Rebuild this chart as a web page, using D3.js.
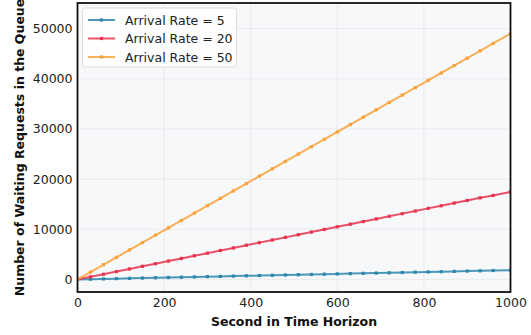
<!DOCTYPE html>
<html><head><meta charset="utf-8">
<script src="https://cdn.jsdelivr.net/npm/d3@7"></script>
<style>body{margin:0;background:#fff;} svg{display:block;font-family:"DejaVu Sans",sans-serif;}</style>
</head><body>
<svg id="c" width="531" height="335"></svg>
<script>
const times = [0,30,60,90,120,150,180,210,240,270,300,330,360,390,420,450,480,510,540,570,600,630,660,690,720,750,780,810,840,870,900,930,960,1000];
const rate5 = [0,55,110,165,220,280,335,390,445,500,555,610,665,720,775,835,890,945,1000,1055,1110,1165,1220,1275,1330,1390,1445,1500,1555,1610,1665,1720,1780,1850];
const rate20 = [0,520,1040,1570,2090,2620,3140,3670,4190,4720,5240,5770,6290,6820,7340,7870,8390,8920,9440,9970,10490,11020,11540,12070,12590,13120,13640,14170,14690,15220,15740,16270,16750,17450];
const rate50 = [0,1470,2940,4410,5880,7350,8820,10290,11760,13230,14700,16170,17640,19110,20580,22050,23520,24990,26460,27930,29400,30870,32340,33810,35280,36750,38220,39690,41160,42630,44100,45570,47040,49000];
const seriesNames = ["Arrival Rate = 5","Arrival Rate = 20","Arrival Rate = 50"];
const seriesColors = ["#2E86AB","#E8334F","#F9A23A"];
const xTicks = [0,200,400,600,800,1000];
const yTicks = [0,10000,20000,30000,40000,50000];

const svg = d3.select("#c");
const L=77.5, R=510.5, T=3, B=292;
const x = d3.scaleLinear().domain([0,1000]).range([L,R]);
const y = d3.scaleLinear().domain([-2500,55100]).range([B,T]);

svg.append("rect").attr("x",L).attr("y",T).attr("width",R-L).attr("height",B-T).attr("fill","#f7f8fa");

// grid
svg.append("g").selectAll("line").data(xTicks).join("line")
  .attr("x1",d=>x(d)).attr("x2",d=>x(d)).attr("y1",T).attr("y2",B)
  .attr("stroke","#e6e7ea").attr("stroke-width",0.8);
svg.append("g").selectAll("line").data(yTicks).join("line")
  .attr("y1",d=>y(d)).attr("y2",d=>y(d)).attr("x1",L).attr("x2",R)
  .attr("stroke","#e6e7ea").attr("stroke-width",0.8);

const series = [rate5, rate20, rate50];
const clip = svg.append("clipPath").attr("id","cp").append("rect").attr("x",L).attr("y",T).attr("width",R-L).attr("height",B-T);
const plot = svg.append("g").attr("clip-path","url(#cp)");
const line = d3.line().x((d,i)=>x(times[i])).y(d=>y(d));
series.forEach((s,k)=>{
  plot.append("path").datum(s).attr("d",line).attr("fill","none")
    .attr("stroke",seriesColors[k]).attr("stroke-width",2).attr("stroke-opacity",0.85);
  plot.append("g").selectAll("rect").data(s).join("rect")
    .attr("x",(d,i)=>x(times[i])-1.6).attr("y",d=>y(d)-1.6).attr("width",3.2).attr("height",3.2)
    .attr("fill",seriesColors[k]);
});

// frame
svg.append("rect").attr("x",L).attr("y",T).attr("width",R-L).attr("height",B-T)
  .attr("fill","none").attr("stroke","#111").attr("stroke-width",1.8);

// axes
const xAxis = d3.axisBottom(x).tickValues(xTicks).tickSize(0).tickPadding(6).tickFormat(d3.format("d"));
const gx = svg.append("g").attr("transform",`translate(0,${B})`).call(xAxis);
gx.select(".domain").remove();
gx.selectAll("text").attr("font-size","12.5px").attr("fill","#222").attr("font-family","DejaVu Sans");
const yAxis = d3.axisLeft(y).tickValues(yTicks).tickSize(0).tickPadding(5).tickFormat(d3.format("d"));
const gy = svg.append("g").attr("transform",`translate(${L},0)`).call(yAxis);
gy.select(".domain").remove();
gy.selectAll("text").attr("font-size","12.5px").attr("fill","#222").attr("font-family","DejaVu Sans");

svg.append("text").attr("x",(L+R)/2).attr("y",326).attr("text-anchor","middle")
  .attr("font-weight","bold").attr("font-size","12.5px").attr("fill","#111").text("Second in Time Horizon");
svg.append("text").attr("transform",`translate(24,${(T+B)/2}) rotate(-90)`).attr("text-anchor","middle")
  .attr("font-weight","bold").attr("font-size","12.5px").attr("fill","#111").text("Number of Waiting Requests in the Queue");

// legend
const lg = svg.append("g");
lg.append("rect").attr("x",82.5).attr("y",8).attr("width",154).attr("height",59).attr("rx",2.5)
  .attr("fill","#fff").attr("fill-opacity",0.85).attr("stroke","#d5d5d5").attr("stroke-width",0.8);
seriesNames.forEach((n,k)=>{
  const yy = 20 + k*18.5;
  lg.append("line").attr("x1",88).attr("x2",115).attr("y1",yy).attr("y2",yy)
    .attr("stroke",seriesColors[k]).attr("stroke-width",2).attr("stroke-opacity",0.85);
  lg.append("rect").attr("x",101.5-1.6).attr("y",yy-1.6).attr("width",3.2).attr("height",3.2).attr("fill",seriesColors[k]);
  lg.append("text").attr("x",125).attr("y",yy+4.5).attr("font-size","12.5px").attr("fill","#222").text(n);
});
</script>
</body></html>
